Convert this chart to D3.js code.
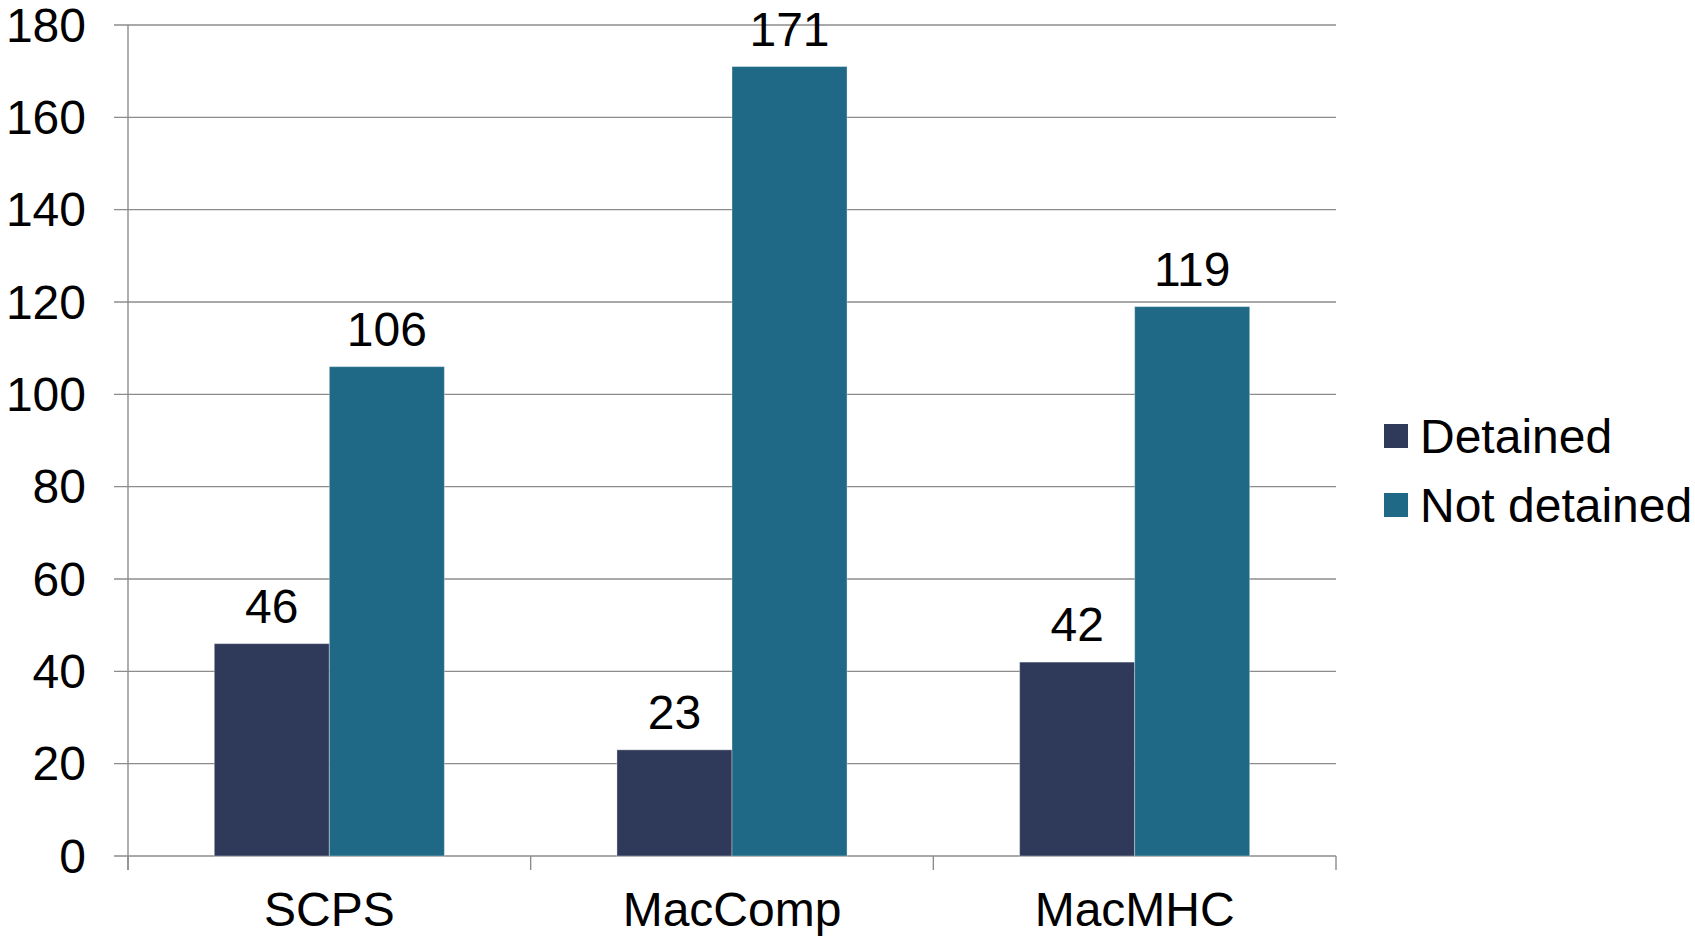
<!DOCTYPE html>
<html>
<head>
<meta charset="utf-8">
<script src="https://cdn.jsdelivr.net/npm/d3@7"></script>
<style>
  html, body { margin: 0; padding: 0; background: #fff; }
  svg { display: block; font-family: "Liberation Sans", Arial, sans-serif; }
</style>
</head>
<body>
<svg id="chart" width="1695" height="936"></svg>
<script>
// Grouped counts per service
const categories = ["SCPS", "MacComp", "MacMHC"];
const seriesNames = ["Detained", "Not detained"];
const detained = [46, 23, 42];
const notDetained = [106, 171, 119];
const yTicks = [0, 20, 40, 60, 80, 100, 120, 140, 160, 180];
const colors = ["#2f3a5a", "#1f6986"];

const seriesValues = [detained, notDetained];
const svg = d3.select("#chart");

const plot = { left: 128, right: 1336, top: 25, bottom: 856 };
const fontSize = 48;

const x0 = d3.scaleBand().domain(categories).range([plot.left, plot.right]).padding(0);
const bw = x0.bandwidth();
const x1 = d3.scaleBand().domain(seriesNames).range([bw * 0.2143, bw * 0.7857]).padding(0);
const y = d3.scaleLinear().domain([0, 180]).range([plot.bottom, plot.top]);

const gridColor = "#8c8c8c";

// Horizontal gridlines with left tick stubs
svg.append("g")
  .selectAll("line")
  .data(yTicks)
  .join("line")
  .attr("x1", plot.left - 14)
  .attr("x2", plot.right)
  .attr("y1", d => y(d))
  .attr("y2", d => y(d))
  .attr("stroke", gridColor)
  .attr("stroke-width", 1.4);

// Y tick labels
svg.append("g")
  .selectAll("text")
  .data(yTicks)
  .join("text")
  .attr("x", 86)
  .attr("y", d => y(d))
  .attr("dy", "0.35em")
  .attr("text-anchor", "end")
  .attr("font-size", fontSize)
  .attr("fill", "#000")
  .text(d => d);

// Bars
const groups = svg.append("g")
  .selectAll("g")
  .data(categories)
  .join("g")
  .attr("transform", d => `translate(${x0(d)},0)`);

const barData = (c, i) => seriesNames.map((s, j) => ({ cat: c, series: s, j, value: seriesValues[j][i] }));

groups.selectAll("rect")
  .data((c, i) => barData(c, i))
  .join("rect")
  .attr("x", d => x1(d.series))
  .attr("width", x1.bandwidth())
  .attr("y", d => y(d.value))
  .attr("height", d => y(0) - y(d.value))
  .attr("fill", d => colors[d.j])
  .attr("stroke", "rgba(255,255,255,0.35)")
  .attr("stroke-width", 1);

// Value labels above bars
groups.selectAll("text")
  .data((c, i) => barData(c, i))
  .join("text")
  .attr("x", d => x1(d.series) + x1.bandwidth() / 2)
  .attr("y", d => y(d.value) - 21)
  .attr("text-anchor", "middle")
  .attr("font-size", fontSize)
  .attr("fill", "#000")
  .text(d => d.value);

// Axes lines
svg.append("line")
  .attr("x1", plot.left).attr("x2", plot.left)
  .attr("y1", plot.top).attr("y2", plot.bottom + 14)
  .attr("stroke", gridColor).attr("stroke-width", 1.4);

const boundaries = categories.map(c => x0(c)).concat([plot.right]);
svg.append("g")
  .selectAll("line")
  .data(boundaries)
  .join("line")
  .attr("x1", d => d).attr("x2", d => d)
  .attr("y1", plot.bottom).attr("y2", plot.bottom + 14)
  .attr("stroke", gridColor).attr("stroke-width", 1.4);

// Category labels
svg.append("g")
  .selectAll("text")
  .data(categories)
  .join("text")
  .attr("x", d => x0(d) + bw / 2)
  .attr("y", 926)
  .attr("text-anchor", "middle")
  .attr("font-size", fontSize)
  .attr("fill", "#000")
  .text(d => d);

// Legend
const legend = svg.append("g")
  .selectAll("g")
  .data(seriesNames)
  .join("g")
  .attr("transform", (d, i) => `translate(1384,${436 + i * 69})`);

legend.append("rect")
  .attr("x", 0).attr("y", -12)
  .attr("width", 24).attr("height", 24)
  .attr("fill", (d, i) => colors[i]);

legend.append("text")
  .attr("x", 36)
  .attr("y", 17)
  .attr("font-size", fontSize)
  .attr("fill", "#000")
  .text(d => d);
</script>
</body>
</html>
